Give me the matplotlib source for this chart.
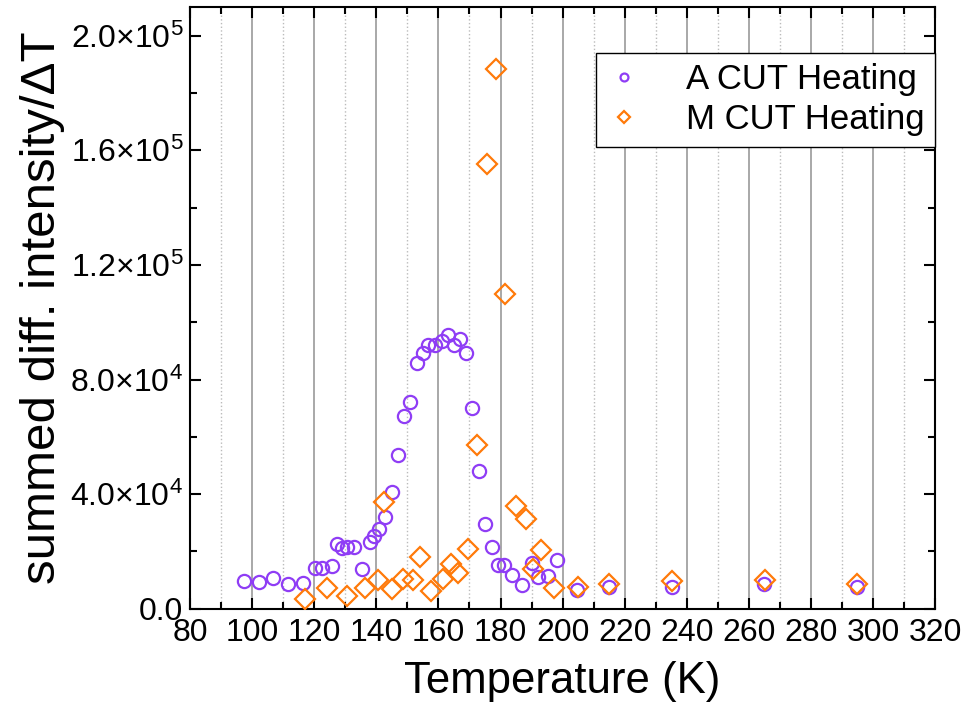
import matplotlib
matplotlib.use('Agg')
import matplotlib.pyplot as plt
from matplotlib.ticker import MultipleLocator, FuncFormatter

plt.rcParams['font.family'] = ['Liberation Sans', 'DejaVu Sans']
plt.rcParams['mathtext.fontset'] = 'custom'
plt.rcParams['mathtext.rm'] = 'Liberation Sans'

# A CUT heating (purple circles)
a_temp = [97.4, 102.2, 106.7, 111.6, 116.4, 120.3, 122.5, 125.7, 127.4, 129.0,
          130.6, 132.8, 135.4, 138.0, 139.3, 140.9, 142.8, 145.1, 147.0, 148.9,
          150.9, 153.1, 155.1, 156.7, 158.9, 161.2, 163.1, 165.1, 167.0, 168.9,
          170.9, 173.1, 175.0, 177.3, 179.2, 181.2, 183.7, 187.0, 190.2, 192.1,
          195.4, 198.2, 204.5, 215.0, 235.3, 264.9, 295.0]
a_val = [9.8e3, 9.4e3, 10.8e3, 8.7e3, 9.1e3, 14.3e3, 14.3e3, 15.0e3, 22.7e3, 21.3e3,
         21.7e3, 21.7e3, 14.0e3, 23.4e3, 25.5e3, 27.9e3, 32.1e3, 40.9e3, 53.8e3, 67.4e3,
         72.3e3, 85.6e3, 89.1e3, 92.2e3, 91.9e3, 93.6e3, 95.7e3, 91.9e3, 94.3e3, 89.4e3,
         70.2e3, 48.2e3, 29.7e3, 21.7e3, 15.4e3, 15.4e3, 11.9e3, 8.4e3, 16.1e3, 11.2e3,
         11.5e3, 17.1e3, 6.6e3, 7.7e3, 7.7e3, 8.7e3, 7.7e3]

# M CUT heating (orange diamonds)
m_temp = [117.0, 124.1, 130.6, 136.4, 140.6, 142.5, 145.1, 148.6, 151.8, 154.1,
          157.6, 161.5, 164.1, 166.3, 169.6, 172.5, 175.7, 178.6, 181.5, 185.0,
          188.3, 190.5, 193.1, 197.3, 205.0, 215.0, 235.3, 265.2, 294.9]
m_val = [3.5e3, 7.3e3, 4.5e3, 7.3e3, 10.1e3, 37.4e3, 7.0e3, 10.5e3, 10.1e3, 18.2e3,
         6.3e3, 10.5e3, 15.7e3, 12.6e3, 21.0e3, 57.3e3, 155.1e3, 188.3e3, 110.0e3, 36.0e3,
         31.4e3, 14.0e3, 20.6e3, 7.3e3, 7.7e3, 8.7e3, 9.8e3, 10.1e3, 8.7e3]

x_ticks = list(range(80, 321, 20))


def sci_label(v, pos):
    if v == 0:
        return '0.0'
    exp = len(str(int(v))) - 1
    mant = v / 10 ** exp
    return r'$\mathregular{%.1f{\times}10^{%d}}$' % (mant, exp)


fig = plt.figure(figsize=(9.65, 7.07), dpi=100)
ax = fig.add_axes([0.197, 0.139, 0.772, 0.851])

ax.plot(a_temp, a_val, linestyle='none', marker='o', markersize=9.5,
        markerfacecolor='none', markeredgecolor='#8F3DF5', markeredgewidth=1.6,
        label='A CUT Heating', zorder=3)
ax.plot(m_temp, m_val, linestyle='none', marker='D', markersize=10,
        markerfacecolor='none', markeredgecolor='#FF7A0A', markeredgewidth=1.6,
        label='M CUT Heating', zorder=4)

ax.set_xlim(80, 320)
ax.set_ylim(0, 2.1e5)
ax.set_xticks(x_ticks)
ax.xaxis.set_minor_locator(MultipleLocator(10))
ax.yaxis.set_major_locator(MultipleLocator(4e4))
ax.yaxis.set_minor_locator(MultipleLocator(2e4))
ax.yaxis.set_major_formatter(FuncFormatter(sci_label))

ax.grid(which='major', axis='x', color='#999999', linestyle='-', linewidth=1.2)
ax.grid(which='minor', axis='x', color='#BBBBBB', linestyle=':', linewidth=1.0)
ax.set_axisbelow(True)

for s in ax.spines.values():
    s.set_linewidth(1.5)
ax.tick_params(which='both', direction='in', top=True, right=True, width=1.5,
               labelsize=23)
ax.tick_params(axis='x', pad=7)
ax.tick_params(axis='y', pad=5)
ax.tick_params(which='major', length=8)
ax.tick_params(which='minor', length=5)

ax.set_xlabel('Temperature (K)', fontsize=31.5, labelpad=9)
ax.set_ylabel('summed diff. intensity/ΔT', fontsize=35.5, labelpad=4)

leg = ax.legend(loc='upper right', bbox_to_anchor=(1.0, 0.9236), fontsize=25,
                frameon=True, fancybox=False, edgecolor='black', framealpha=1,
                handlelength=1.0, handletextpad=1.3, borderpad=0.3,
                labelspacing=0.2, markerscale=0.6, borderaxespad=0)
leg.get_frame().set_linewidth(1.0)

fig.savefig('out.png', dpi=100)
